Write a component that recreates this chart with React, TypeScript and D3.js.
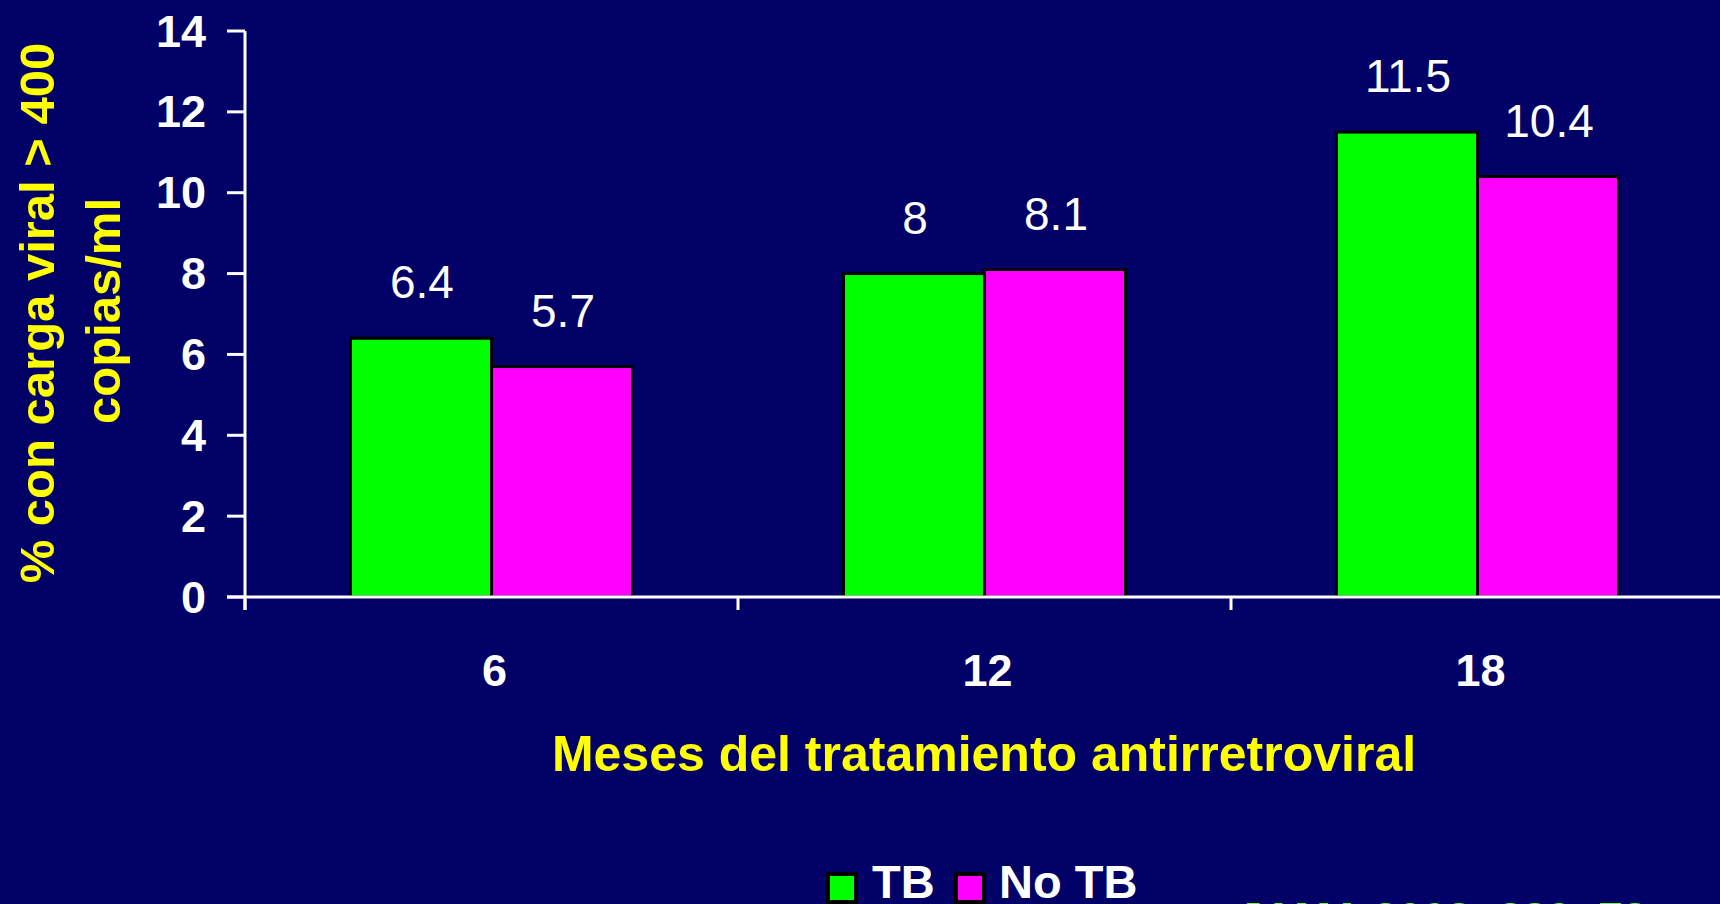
import React from 'react';
import * as d3 from 'd3';

// data
const months = ['6', '12', '18'];
const series = ['TB', 'No TB'];
const tbValues = [6.4, 8, 11.5];
const noTbValues = [5.7, 8.1, 10.4];
const yTicks = [0, 2, 4, 6, 8, 10, 12, 14];
const seriesColors = ['#00FF00', '#FF00FF'];

const W = 1720;
const H = 904;
const BG = '#000066';
const FONT = '"Liberation Sans", Arial, sans-serif';

export default function App() {
  const x0 = d3.scaleBand().domain(months).range([245, 1724]).padding(0);
  const x1 = d3
    .scaleBand()
    .domain(series)
    .range([0, x0.bandwidth()])
    .paddingInner(0)
    .paddingOuter(0.748);
  const y = d3.scaleLinear().domain([0, 14]).range([597, 31]);

  const valuesBySeries = [tbValues, noTbValues];
  const boundaries = [245, 245 + x0.bandwidth(), 245 + 2 * x0.bandwidth()];

  return (
    <div style={{ position: 'absolute', left: 0, top: 0, width: W, height: H, background: BG }}>
      <svg width={W} height={H} style={{ display: 'block' }} fontFamily={FONT}>
        <rect width={W} height={H} fill={BG} />

        {/* bars + value labels */}
        {months.map((m, i) => (
          <g key={m} transform={'translate(' + x0(m) + ',0)'}>
            {series.map((s, j) => {
              const v = valuesBySeries[j][i];
              const bx = x1(s) as number;
              return (
                <g key={s}>
                  <rect
                    x={bx}
                    y={y(v)}
                    width={x1.bandwidth()}
                    height={y(0) - y(v)}
                    fill={seriesColors[j]}
                    stroke="#000"
                    strokeWidth={3}
                  />
                  <text
                    x={bx + x1.bandwidth() / 2 + 1}
                    y={y(v) - 40}
                    fill="#fff"
                    fontSize={46}
                    textAnchor="middle"
                  >
                    {String(v)}
                  </text>
                </g>
              );
            })}
          </g>
        ))}

        {/* y axis */}
        <line x1={245} x2={245} y1={y(14)} y2={610} stroke="#fff" strokeWidth={3} />
        {yTicks.map((t) => (
          <g key={t}>
            <line x1={227} x2={245} y1={y(t)} y2={y(t)} stroke="#fff" strokeWidth={3} />
            <text
              x={206}
              y={y(t)}
              fill="#fff"
              fontSize={45}
              fontWeight="bold"
              textAnchor="end"
              dominantBaseline="central"
            >
              {t}
            </text>
          </g>
        ))}

        {/* x axis */}
        <line x1={227} x2={W} y1={y(0)} y2={y(0)} stroke="#fff" strokeWidth={3} />
        {boundaries.map((b, i) => (
          <line key={i} x1={b} x2={b} y1={y(0)} y2={610} stroke="#fff" strokeWidth={3} />
        ))}
        {months.map((m) => (
          <text
            key={m}
            x={(x0(m) as number) + x0.bandwidth() / 2 + 3}
            y={686}
            fill="#fff"
            fontSize={45}
            fontWeight="bold"
            textAnchor="middle"
          >
            {m}
          </text>
        ))}

        {/* axis titles */}
        <text
          x={984}
          y={771}
          fill="#FFFF00"
          fontSize={50}
          fontWeight="bold"
          textAnchor="middle"
        >
          Meses del tratamiento antirretroviral
        </text>
        <g transform="translate(37,313) rotate(-90)">
          <text fill="#FFFF00" fontSize={49} fontWeight="bold" textAnchor="middle" dominantBaseline="central">
            % con carga viral &gt; 400
          </text>
        </g>
        <g transform="translate(103,311) rotate(-90)">
          <text fill="#FFFF00" fontSize={49} fontWeight="bold" textAnchor="middle" dominantBaseline="central">
            copias/ml
          </text>
        </g>

        {/* legend */}
        <rect x={828} y={874} width={28} height={28} fill={seriesColors[0]} stroke="#000" strokeWidth={4} />
        <text x={872} y={898} fill="#fff" fontSize={47} fontWeight="bold">
          {series[0]}
        </text>
        <rect x={956} y={874} width={28} height={28} fill={seriesColors[1]} stroke="#000" strokeWidth={4} />
        <text x={999} y={898} fill="#fff" fontSize={47} fontWeight="bold">
          {series[1]}
        </text>

        {/* source line, cut off by the bottom edge as on the slide */}
        <text x={1238} y={934} fill="#66FF33" fontSize={44} fontWeight="bold">
          JAMA 2003; 289: 78
        </text>
      </svg>
    </div>
  );
}
